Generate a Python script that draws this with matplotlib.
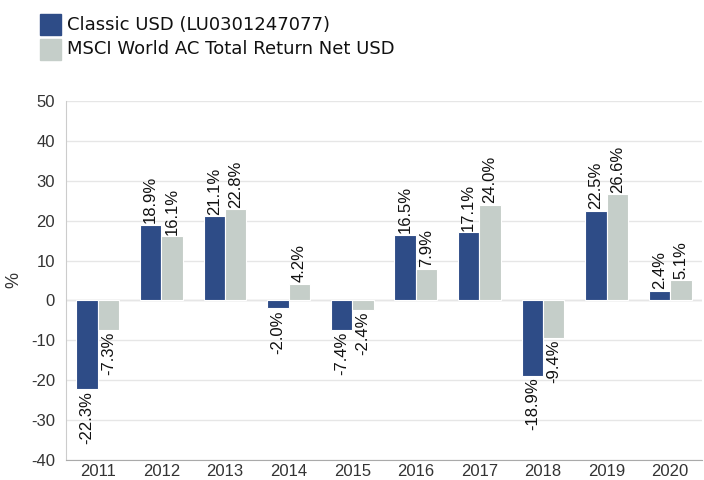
import matplotlib
matplotlib.use("Agg")
import matplotlib.pyplot as plt
import numpy as np
from matplotlib.patches import Rectangle

plt.rcParams["font.family"] = ["Liberation Sans", "DejaVu Sans"]
plt.rcParams["axes.unicode_minus"] = False

years = ["2011", "2012", "2013", "2014", "2015", "2016", "2017", "2018", "2019", "2020"]
fund = [-22.3, 18.9, 21.1, -2.0, -7.4, 16.5, 17.1, -18.9, 22.5, 2.4]
index = [-7.3, 16.1, 22.8, 4.2, -2.4, 7.9, 24.0, -9.4, 26.6, 5.1]
series_names = ["Classic USD (LU0301247077)", "MSCI World AC Total Return Net USD"]
colors = ["#2E4C87", "#C5CEC9"]

fig = plt.figure(figsize=(7.04, 4.8), dpi=100)
ax = fig.add_axes([66/704, 1 - 460/480, (702-66)/704, (460-101)/480])

x = np.arange(len(years))
w = 0.335
for vals, off, c in [(fund, -w/2, colors[0]), (index, w/2, colors[1])]:
    ax.bar(x + off, vals, width=w, color=c, edgecolor="white", linewidth=0.8, zorder=3)
    for xi, v in zip(x + off, vals):
        lbl = f"{v:.1f}%"
        if v >= 0:
            ax.text(xi, v + 0.4, lbl, rotation=90, ha="center", va="bottom",
                    fontsize=12, color="#111111")
        else:
            ax.text(xi, v - 0.4, lbl, rotation=90, ha="center", va="top",
                    fontsize=12, color="#111111")

ax.set_xlim(-0.5, len(years) - 0.5)
ax.set_ylim(-40, 50)
ax.set_yticks(range(-40, 51, 10))
ax.set_xticks(x)
ax.set_xticklabels(years)
ax.grid(axis="y", color="#E6E6E6", linewidth=1, zorder=0)
ax.axhline(0, color="#E0E0E0", linewidth=1, zorder=1)
for s in ["top", "right"]:
    ax.spines[s].set_visible(False)
ax.spines["left"].set_color("#CCCCCC")
ax.spines["bottom"].set_color("#AAAAAA")
ax.tick_params(axis="both", length=0, labelsize=12, labelcolor="#333333")
ax.tick_params(axis="y", pad=8)
ax.tick_params(axis="x", pad=3)
ax.set_ylabel("%", fontsize=13, color="#333333", labelpad=6)

# legend
for i, (name, c) in enumerate(zip(series_names, colors)):
    y0 = 14 + i * 25
    fig.patches.append(Rectangle((40/704, 1 - (y0 + 21)/480), 21/704, 21/480,
                                 transform=fig.transFigure, color=c, figure=fig))
    fig.text(67/704, 1 - (y0 + 10.5)/480, name, ha="left", va="center",
             fontsize=13, family="DejaVu Sans", color="#111111")

fig.savefig("out.png", dpi=100)
